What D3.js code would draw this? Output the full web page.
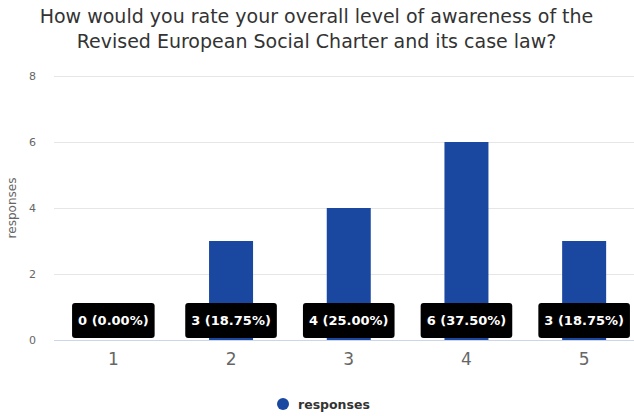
<!DOCTYPE html>
<html><head><meta charset="utf-8">
<script src="https://cdn.jsdelivr.net/npm/d3@7"></script>
<style>body{margin:0;background:#fff}svg{display:block}</style>
</head><body>
<script>
const categories = ["1","2","3","4","5"];
const values = [0,3,4,6,3];
const labels = ["0 (0.00%)","3 (18.75%)","4 (25.00%)","6 (37.50%)","3 (18.75%)"];
const yTicks = [0,2,4,6,8];
const titleLines = ["How would you rate your overall level of awareness of the","Revised European Social Charter and its case law?"];
const seriesName = "responses";

const W=634,H=416, m={l:54,t:76,b:76};
const svg=d3.select("body").append("svg").attr("width",W).attr("height",H).style("font-family","'DejaVu Sans',sans-serif");
const x=d3.scaleBand().domain(categories).range([54.5,643]);
const y=d3.scaleLinear().domain([0,8]).range([H-m.b,m.t]);

svg.append("g").selectAll("text").data(titleLines).join("text")
 .attr("x",W/2-0.5).attr("y",(d,i)=>23+i*25).attr("text-anchor","middle")
 .attr("font-size",19).attr("fill","#333").text(d=>d);

// grid
svg.append("g").selectAll("line").data(yTicks.filter(t=>t>0)).join("line")
 .attr("x1",m.l).attr("x2",W).attr("y1",d=>y(d)+0.5).attr("y2",d=>y(d)+0.5)
 .attr("stroke","#e6e6e6");
svg.append("g").selectAll("text").data(yTicks).join("text")
 .attr("x",36).attr("y",d=>y(d)+4).attr("text-anchor","end")
 .attr("font-size",11).attr("fill","#666").text(d=>d);
svg.append("text").attr("transform",`translate(16,${y(4)}) rotate(-90)`)
 .attr("text-anchor","middle").attr("font-size",12).attr("fill","#666").text(seriesName);

// bars
const bw=44;
svg.append("g").selectAll("rect").data(values).join("rect")
 .attr("x",(d,i)=>x(categories[i])+x.bandwidth()/2-bw/2).attr("width",bw)
 .attr("y",d=>y(d)).attr("height",d=>y(0)-y(d)).attr("fill","#1a47a0");

// axis line
svg.append("line").attr("x1",m.l).attr("x2",W).attr("y1",y(0)+0.5).attr("y2",y(0)+0.5).attr("stroke","#ccd6eb");
svg.append("g").selectAll("text").data(categories).join("text")
 .attr("x",d=>x(d)+x.bandwidth()/2).attr("y",365).attr("text-anchor","middle")
 .attr("font-size",17).attr("fill","#666").text(d=>d);

// data labels
const lg=svg.append("g").selectAll("g").data(labels).join("g")
 .attr("transform",(d,i)=>`translate(${x(categories[i])+x.bandwidth()/2},320.5)`);
lg.each(function(d){
  const g=d3.select(this);
  const t=g.append("text").attr("text-anchor","middle").attr("y",4.5).attr("font-size",13)
   .attr("font-weight","bold").attr("fill","#fff").text(d);
  const bb=t.node().getBBox();
  g.insert("rect","text").attr("x",-bb.width/2-6).attr("y",-17.5).attr("width",bb.width+12).attr("height",35)
   .attr("rx",3).attr("fill","#000");
});

// legend
const leg=svg.append("g");
leg.append("circle").attr("cx",283).attr("cy",404).attr("r",6).attr("fill","#1a47a0");
leg.append("text").attr("x",298).attr("y",408.5).attr("font-size",12.5).attr("font-weight","bold").attr("fill","#333").text(seriesName);
</script>
</body></html>
